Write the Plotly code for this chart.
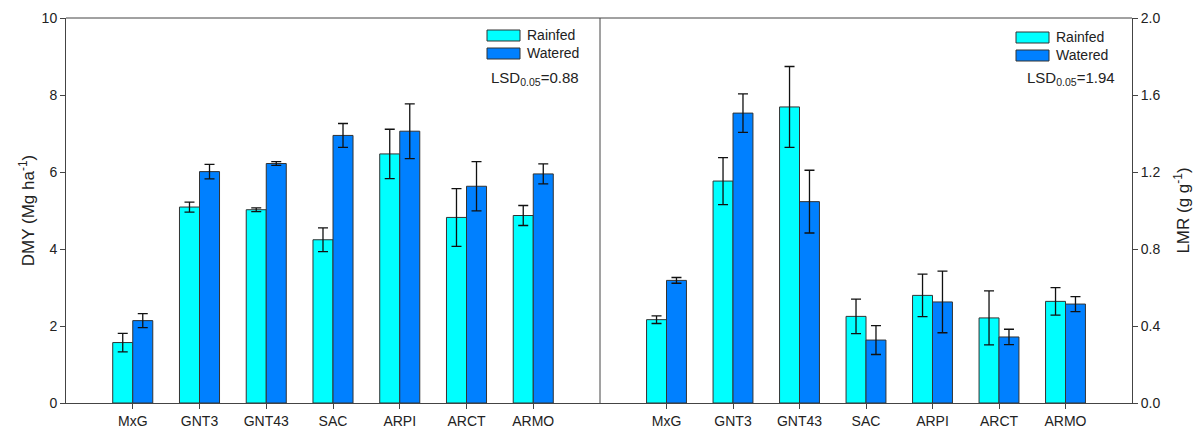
import plotly.graph_objects as go

categories = ["MxG", "GNT3", "GNT43", "SAC", "ARPI", "ARCT", "ARMO"]

dmy_rainfed = [1.57, 5.09, 5.02, 4.24, 6.47, 4.82, 4.87]
dmy_rainfed_err = [0.24, 0.13, 0.05, 0.31, 0.64, 0.75, 0.26]
dmy_watered = [2.14, 6.01, 6.22, 6.95, 7.06, 5.63, 5.95]
dmy_watered_err = [0.18, 0.19, 0.05, 0.31, 0.71, 0.64, 0.26]

lmr_rainfed = [0.433, 1.153, 1.538, 0.45, 0.559, 0.442, 0.528]
lmr_rainfed_err = [0.02, 0.122, 0.21, 0.09, 0.11, 0.14, 0.071]
lmr_watered = [0.637, 1.506, 1.046, 0.327, 0.525, 0.343, 0.514]
lmr_watered_err = [0.015, 0.1, 0.163, 0.075, 0.16, 0.04, 0.039]

C_RAIN = "#00FFFF"
C_WAT = "#0080FF"
FONT = "Liberation Sans, Arial, sans-serif"

fig = go.Figure()

def add_bar(y, err, color, xa, ya, name):
    fig.add_trace(go.Bar(
        x=categories, y=y, name=name, xaxis=xa, yaxis=ya,
        marker=dict(color=color, line=dict(color="#333333", width=1)),
        error_y=dict(type="data", array=err, visible=True, color="#111111", thickness=1.3, width=5),
        showlegend=False,
    ))

add_bar(dmy_rainfed, dmy_rainfed_err, C_RAIN, "x", "y", "Rainfed")
add_bar(dmy_watered, dmy_watered_err, C_WAT, "x", "y", "Watered")
add_bar(lmr_rainfed, lmr_rainfed_err, C_RAIN, "x2", "y2", "Rainfed")
add_bar(lmr_watered, lmr_watered_err, C_WAT, "x2", "y2", "Watered")

# page body has an 8px margin: work in page pixels and offset
OFF = 8
W, H = 1201 - OFF, 431 - OFF
ml, mt = 66 - OFF, 18 - OFF
pw, ph = 1066, 385
mr = W - ml - pw
mb = H - mt - ph
split = (600 - 66) / pw

tickfont = dict(family=FONT, size=14, color="#222222")
xcommon = dict(
    type="category", range=[-1, 7], showline=True, linecolor="#444444", linewidth=1,
    ticks="outside", ticklen=5, tickcolor="#444444", tickfont=tickfont,
    showgrid=False, zeroline=False, fixedrange=True, automargin=False,
)
fig.update_layout(
    width=W, height=H,
    margin=dict(l=ml, r=mr, t=mt, b=mb, autoexpand=False),
    paper_bgcolor="white", plot_bgcolor="white",
    barmode="group", bargap=0.4, bargroupgap=0,
    font=dict(family=FONT, color="#222222"),
    xaxis=dict(domain=[0, split], anchor="y", **xcommon),
    xaxis2=dict(domain=[split, 1], anchor="y2", **xcommon),
    yaxis=dict(
        range=[0, 10], tickvals=[0, 2, 4, 6, 8, 10], anchor="x",
        showline=True, linecolor="#444444", linewidth=1,
        ticks="outside", ticklen=5, tickcolor="#444444", tickfont=tickfont,
        showgrid=False, zeroline=False, automargin=False,
        title=dict(text="DMY (Mg ha<sup>-1</sup>)", font=dict(family=FONT, size=17), standoff=2),
    ),
    yaxis2=dict(
        range=[0, 2.0], tickvals=[0, 0.4, 0.8, 1.2, 1.6, 2.0], tickformat=".1f",
        anchor="x2", side="right",
        showline=True, linecolor="#444444", linewidth=1,
        ticks="outside", ticklen=5, tickcolor="#444444", tickfont=tickfont,
        showgrid=False, zeroline=False, automargin=False,
        title=dict(text="LMR (g g<sup>-1</sup>)", font=dict(family=FONT, size=17), standoff=17),
    ),
)

shapes = [
    dict(type="line", xref="paper", yref="paper", x0=0, x1=1, y0=1, y1=1,
         line=dict(color="#444444", width=1)),
    dict(type="line", xref="paper", yref="paper", x0=split, x1=split, y0=0, y1=1,
         line=dict(color="#444444", width=1)),
]

annotations = []

def px_to_paper(xp, yp):
    # xp, yp in reference page pixels
    return (xp - 66) / pw, 1 - (yp - 18) / ph

def legend(x_sw, y_top, lsd_text, lsd_x):
    for i, (lab, col) in enumerate([("Rainfed", C_RAIN), ("Watered", C_WAT)]):
        y0p = y_top + i * 18
        xa0, ya0 = px_to_paper(x_sw, y0p)
        xa1, ya1 = px_to_paper(x_sw + 33, y0p + 11)
        shapes.append(dict(type="rect", xref="paper", yref="paper", x0=xa0, x1=xa1, y0=ya1, y1=ya0,
                           fillcolor=col, line=dict(color="#333333", width=1)))
        tx, ty = px_to_paper(x_sw + 38, y0p + 5.5)
        annotations.append(dict(xref="paper", yref="paper", x=tx, y=ty, text=lab, showarrow=False,
                                xanchor="left", yanchor="middle",
                                font=dict(family=FONT, size=14, color="#222222")))
    lx, ly = px_to_paper(lsd_x, 79)
    annotations.append(dict(xref="paper", yref="paper", x=lx, y=ly, text=lsd_text, showarrow=False,
                            xanchor="right", yanchor="middle",
                            font=dict(family=FONT, size=15, color="#222222")))

legend(487, 30, "LSD<sub>0.05</sub>=0.88", 581)
legend(1016, 32, "LSD<sub>0.05</sub>=1.94", 1117)

fig.update_layout(shapes=shapes, annotations=annotations)
fig.write_html("out.html")
